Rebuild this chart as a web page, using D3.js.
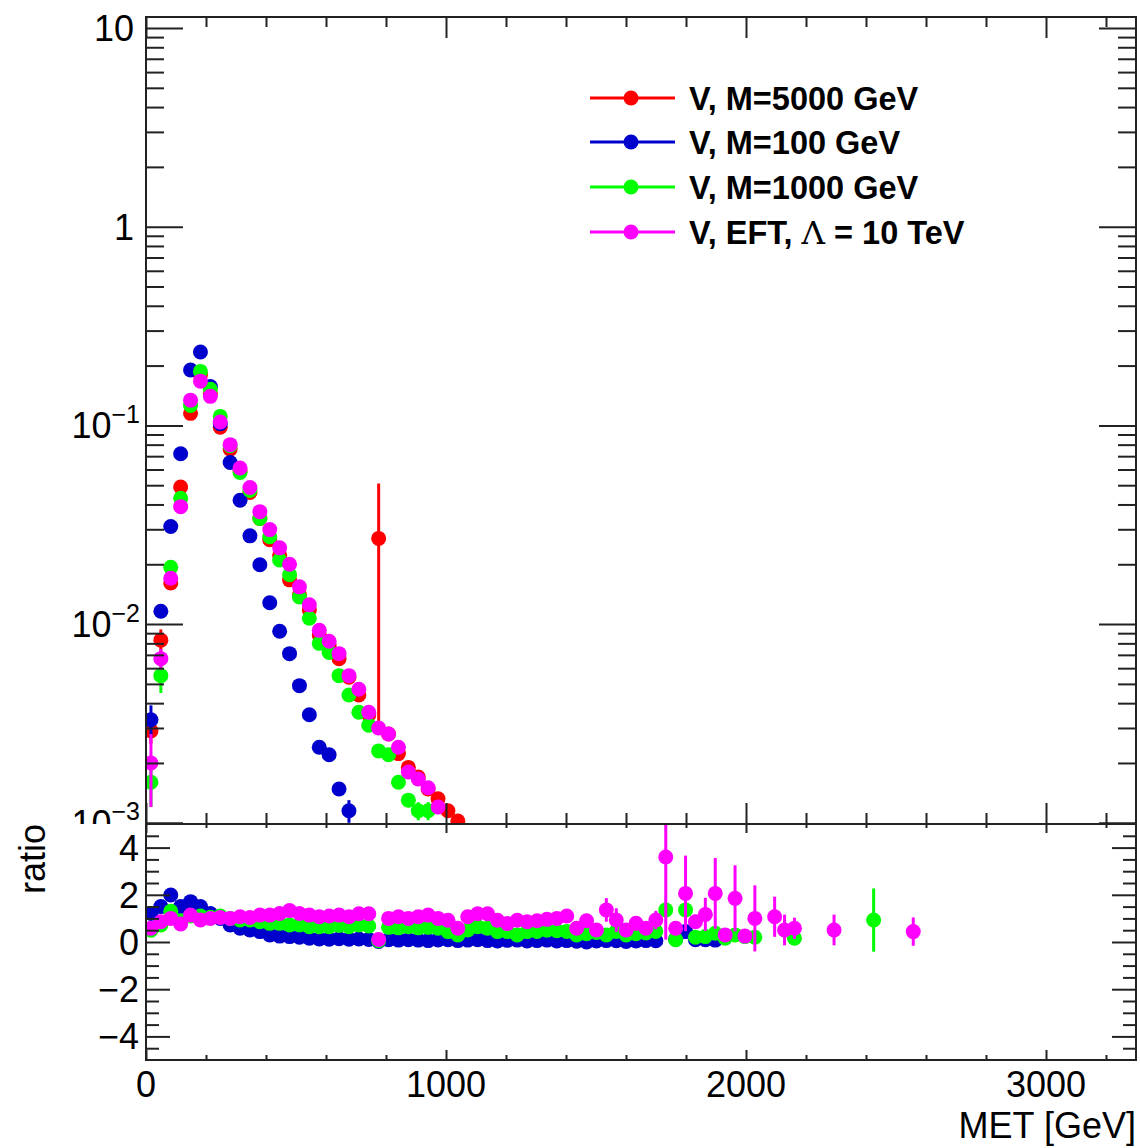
<!DOCTYPE html>
<html>
<head>
<meta charset="utf-8">
<script src="https://cdn.jsdelivr.net/npm/d3@7"></script>
<style>
  body { margin: 0; background: #fff; }
  svg text { font-family: "Liberation Sans", Arial, Helvetica, sans-serif; }
</style>
</head>
<body>
<div id="chart"></div>
<script>
// 100 bins of 33 GeV on 0-3300 GeV, values indexed by bin number
const binWidth = 33;
const xRange = [0, 3300];
const xMajor = [0, 1000, 2000, 3000];
const yTopRange = [0.000986, 11.36];
const yTopMajor = [0.001, 0.01, 0.1, 1, 10];
const ratioRange = [-5, 5];
const ratioMajor = [-4, -2, 0, 2, 4];

const seriesNames = ["V, M=5000 GeV", "V, M=100 GeV", "V, M=1000 GeV", "V, EFT, \u039B = 10 TeV"];
const seriesColors = ["#ff0000", "#0000cc", "#00ff00", "#ff00ff"];

// upper pad: normalised MET distributions
const redTop = [0.0029, 0.0083, 0.0161, 0.049, 0.115, 0.18, 0.145, 0.098, 0.076, 0.059,
  0.046, 0.034, 0.0266, 0.0222, 0.0167, 0.014, 0.0118, 0.0088, 0.0078, 0.0067,
  0.0054, 0.0044, 0.0035, 0.027, 0.0028, 0.00223, 0.0019, 0.0017, 0.00148, 0.00132,
  0.00115, 0.00102];
const redTopErr = [0.0004, 0.0011, 0, 0, 0, 0, 0, 0, 0, 0, 0, 0, 0, 0, 0, 0, 0, 0, 0, 0,
  0, 0, 0, 0.024, 0, 0, 0, 0, 0, 0, 0, 0];
const blueTop = [0.0033, 0.0116, 0.031, 0.072, 0.19, 0.234, 0.157, 0.102, 0.065, 0.042,
  0.0278, 0.0199, 0.0128, 0.0092, 0.0071, 0.0049, 0.0035, 0.0024, 0.0022, 0.00148,
  0.00115];
const blueTopErr = [0.0006, 0, 0, 0, 0, 0, 0, 0, 0, 0, 0, 0, 0, 0, 0, 0, 0, 0, 0, 0, 0.00015];
const greenTop = [0.0016, 0.0055, 0.0193, 0.043, 0.126, 0.187, 0.152, 0.111, 0.079, 0.058,
  0.047, 0.034, 0.0275, 0.021, 0.0177, 0.0137, 0.0107, 0.008, 0.0072, 0.0055,
  0.0044, 0.0036, 0.0031, 0.0023, 0.0022, 0.0016, 0.0013, 0.00115, 0.00115];
const greenTopErr = [0.0004, 0.001, 0, 0, 0, 0, 0, 0, 0, 0, 0, 0, 0, 0, 0, 0, 0, 0, 0, 0,
  0, 0, 0, 0, 0, 0, 0, 0.00012, 0.00012];
const magentaTop = [0.002, 0.0067, 0.017, 0.039, 0.134, 0.167, 0.14, 0.104, 0.08, 0.061,
  0.0487, 0.0368, 0.0299, 0.0242, 0.02, 0.0154, 0.0125, 0.0093, 0.0082, 0.0071,
  0.0055, 0.0047, 0.0036, 0.003, 0.0028, 0.0024, 0.0018, 0.00166, 0.0015, 0.0012];
const magentaTopErr = [0.0008, 0.0008, 0, 0, 0, 0, 0, 0, 0, 0, 0, 0, 0, 0, 0, 0, 0, 0, 0, 0,
  0, 0, 0, 0, 0, 0, 0, 0, 0, 0];

// lower pad: ratio to the M=5000 GeV sample
const blueRatio = [1.21, 1.5, 1.99, 1.5, 1.71, 1.5, 1.21, 1.0, 0.72, 0.58,
  0.51, 0.44, 0.3, 0.25, 0.23, 0.2, 0.16, 0.13, 0.12, 0.14,
  0.12, 0.13, 0.11, 0.02, 0.1, 0.08, 0.1, 0.08, 0.06, 0.09,
  0.1, 0.06, 0.08, 0.1, 0.06, 0.04, 0.07, 0.08, 0.04, 0.06,
  0.08, 0.04, 0.06, 0.03, 0.0, 0.04, 0.06, 0.05, 0.02, 0.04,
  0.06, 0.05, null, 0.12, 0.44, 0.1, 0.1, 0.08];
const blueRatioErr = [];
const greenRatio = [0.5, 0.72, 1.3, 0.9, 1.1, 1.1, 1.05, 1.1, 1.0, 0.93,
  0.93, 0.86, 0.79, 0.79, 0.72, 0.72, 0.65, 0.65, 0.65, 0.7,
  0.65, 0.72, 0.68, 0.05, 0.62, 0.6, 0.65, 0.6, 0.62, 0.58,
  0.44, 0.3, 0.51, 0.65, 0.58, 0.44, 0.44, 0.3, 0.44, 0.45,
  0.5, 0.48, 0.45, 0.3, 0.35, 0.4, 0.3, 0.45, 0.3, 0.35,
  0.38, 0.45, 1.36, 0.1, 1.36, 0.2, 0.23, 0.37, 0.16, 0.3,
  0.23, 0.2, null, null, null, 0.16, null, null, null, null,
  null, null, null, 0.93];
const greenRatioErr = {52: 0.25, 54: 0.2, 73: 1.34};
const magentaRatio = [0.58, 0.86, 1.0, 0.76, 1.14, 0.93, 1.0, 1.04, 1.0, 1.07,
  1.04, 1.14, 1.14, 1.21, 1.33, 1.21, 1.14, 1.07, 1.1, 1.14,
  1.07, 1.2, 1.2, 0.11, 1.0, 1.07, 1.0, 1.07, 1.14, 1.0,
  0.92, 0.58, 1.07, 1.2, 1.2, 0.92, 0.78, 0.92, 0.86, 0.9,
  0.96, 1.0, 1.1, 0.58, 0.9, 0.51, 1.36, 0.93, 0.51, 0.79,
  0.58, 0.93, 3.6, 0.58, 2.06, 0.86, 1.17, 2.06, 0.3, 1.85,
  0.25, 1.0, null, 1.07, 0.51, 0.58, null, null, null, 0.51,
  null, null, null, null, null, null, null, 0.44];
const magentaRatioErr = {43: 0.2, 44: 0.2, 46: 0.5, 47: 0.5, 51: 0.39, 52: 3.5, 53: 0.25,
  54: 1.6, 55: 0.3, 56: 0.7, 57: 1.5, 58: 0.15, 59: 1.4, 60: 0.1, 61: 1.4,
  63: 0.85, 64: 0.65, 65: 0.45, 69: 0.65, 77: 0.6};

// layout
const W = 1140, H = 1148;
const frameL = 146, frameR = 1136;
const topY0 = 17, splitY = 824, botY1 = 1060;
const markerR = 7.5;
const axisColor = "#222";

const x = d3.scaleLinear().domain(xRange).range([frameL, frameR]);
const yTop = d3.scaleLog().domain(yTopRange).range([splitY, topY0]);
const yRatio = d3.scaleLinear().domain(ratioRange).range([botY1, splitY]);

const svg = d3.select("#chart").append("svg")
  .attr("width", W).attr("height", H)
  .attr("viewBox", [0, 0, W, H]);

const defs = svg.append("defs");
defs.append("clipPath").attr("id", "clipTop")
  .append("rect").attr("x", frameL).attr("y", topY0)
  .attr("width", frameR - frameL).attr("height", splitY - topY0);
defs.append("clipPath").attr("id", "clipBot")
  .append("rect").attr("x", frameL).attr("y", splitY)
  .attr("width", frameR - frameL).attr("height", botY1 - splitY);

const binCenter = i => binWidth * (i + 0.5);

function toPoints(values, errs) {
  const pts = [];
  values.forEach((v, i) => {
    if (v === null || v === undefined) return;
    const e = (errs && errs[i]) || 0;
    pts.push({x: binCenter(i), v: v, e: e});
  });
  return pts;
}

function drawSeries(g, pts, yScale, color, isLog) {
  const lo = d => isLog ? Math.max(d.v - d.e, 1e-6) : d.v - d.e;
  g.append("g").selectAll("line")
    .data(pts.filter(d => d.e > 0))
    .join("line")
    .attr("x1", d => x(d.x)).attr("x2", d => x(d.x))
    .attr("y1", d => yScale(lo(d))).attr("y2", d => yScale(d.v + d.e))
    .attr("stroke", color).attr("stroke-width", 3);
  g.append("g").selectAll("circle")
    .data(pts)
    .join("circle")
    .attr("cx", d => x(d.x)).attr("cy", d => yScale(d.v))
    .attr("r", markerR).attr("fill", color);
}

function ticks(g, axisFn, scale, values, size) {
  g.call(axisFn(scale).tickValues(values).tickSize(size).tickFormat(""));
  g.select(".domain").remove();
  g.selectAll(".tick line").attr("stroke", axisColor).attr("stroke-width", 2);
}

const xMinor = d3.range(0, 3301, 200).filter(v => !xMajor.includes(v));
const yTopMinor = [];
[1e-3, 1e-2, 1e-1, 1].forEach(dec => { for (let k = 2; k <= 9; k++) yTopMinor.push(k * dec); });
const ratioMinor = d3.range(-4.5, 4.51, 0.5).filter(v => !ratioMajor.includes(v));

// ---------- upper pad ----------
const topPad = svg.append("g");
const topData = topPad.append("g").attr("clip-path", "url(#clipTop)");
drawSeries(topData, toPoints(redTop, redTopErr), yTop, seriesColors[0], true);
drawSeries(topData, toPoints(blueTop, blueTopErr), yTop, seriesColors[1], true);
drawSeries(topData, toPoints(greenTop, greenTopErr), yTop, seriesColors[2], true);
drawSeries(topData, toPoints(magentaTop, magentaTopErr), yTop, seriesColors[3], true);

ticks(topPad.append("g").attr("transform", `translate(0,${splitY})`), d3.axisBottom, x, xMajor, -21);
ticks(topPad.append("g").attr("transform", `translate(0,${splitY})`), d3.axisBottom, x, xMinor, -11);
ticks(topPad.append("g").attr("transform", `translate(0,${topY0})`), d3.axisTop, x, xMajor, -21);
ticks(topPad.append("g").attr("transform", `translate(0,${topY0})`), d3.axisTop, x, xMinor, -10);
ticks(topPad.append("g").attr("transform", `translate(${frameL},0)`), d3.axisLeft, yTop, yTopMajor, -37);
ticks(topPad.append("g").attr("transform", `translate(${frameL},0)`), d3.axisLeft, yTop, yTopMinor, -18);
ticks(topPad.append("g").attr("transform", `translate(${frameR},0)`), d3.axisRight, yTop, yTopMajor, -37);
ticks(topPad.append("g").attr("transform", `translate(${frameR},0)`), d3.axisRight, yTop, yTopMinor, -18);

topPad.append("rect")
  .attr("x", frameL).attr("y", topY0)
  .attr("width", frameR - frameL).attr("height", splitY - topY0)
  .attr("fill", "none").attr("stroke", axisColor).attr("stroke-width", 2);

// log labels
yTopMajor.forEach(v => {
  const t = topPad.append("text")
    .attr("y", yTop(v)).attr("dy", "0.36em")
    .attr("font-size", 36).attr("fill", "#000")
    .attr("text-anchor", "end");
  const exp = Math.round(Math.log10(v));
  if (exp >= 0) {
    t.attr("x", 134).text(String(v));
  } else {
    t.attr("x", 140);
    t.append("tspan").text("10");
    t.append("tspan").attr("font-size", 25).attr("dy", "-0.62em").text("\u2212" + (-exp));
  }
});

// legend
const legend = topPad.append("g");
const legendRows = [98, 142, 187, 232];
seriesNames.forEach((name, k) => {
  const yy = legendRows[k];
  legend.append("line").attr("x1", 590).attr("x2", 675).attr("y1", yy).attr("y2", yy)
    .attr("stroke", seriesColors[k]).attr("stroke-width", 3);
  legend.append("circle").attr("cx", 631).attr("cy", yy).attr("r", markerR)
    .attr("fill", seriesColors[k]);
  const t = legend.append("text").attr("x", 689).attr("y", yy + 11.5)
    .attr("font-size", 32.5).attr("font-weight", "bold").attr("fill", "#000");
  const parts = name.split("\u039B");
  t.append("tspan").text(parts[0]);
  if (parts.length > 1) {
    t.append("tspan").attr("font-family", "'DejaVu Serif', serif").attr("font-weight", "normal")
      .text("\u039B");
    t.append("tspan").text(parts[1]);
  }
});

// ---------- lower pad ----------
const botPad = svg.append("g");
botPad.append("rect").attr("x", 0).attr("y", splitY).attr("width", W).attr("height", H - splitY)
  .attr("fill", "#fff");
const botData = botPad.append("g").attr("clip-path", "url(#clipBot)");
drawSeries(botData, toPoints(blueRatio, blueRatioErr), yRatio, seriesColors[1], false);
drawSeries(botData, toPoints(greenRatio, greenRatioErr), yRatio, seriesColors[2], false);
drawSeries(botData, toPoints(magentaRatio, magentaRatioErr), yRatio, seriesColors[3], false);

ticks(botPad.append("g").attr("transform", `translate(0,${botY1})`), d3.axisBottom, x, xMajor, -10);
ticks(botPad.append("g").attr("transform", `translate(0,${botY1})`), d3.axisBottom, x, xMinor, -5);
ticks(botPad.append("g").attr("transform", `translate(0,${splitY})`), d3.axisTop, x, xMajor, -9);
ticks(botPad.append("g").attr("transform", `translate(0,${splitY})`), d3.axisTop, x, xMinor, -4);
ticks(botPad.append("g").attr("transform", `translate(${frameL},0)`), d3.axisLeft, yRatio, ratioMajor, -24);
ticks(botPad.append("g").attr("transform", `translate(${frameL},0)`), d3.axisLeft, yRatio, ratioMinor, -13);
ticks(botPad.append("g").attr("transform", `translate(${frameR},0)`), d3.axisRight, yRatio, ratioMajor, -24);
ticks(botPad.append("g").attr("transform", `translate(${frameR},0)`), d3.axisRight, yRatio, ratioMinor, -13);

botPad.append("rect")
  .attr("x", frameL).attr("y", splitY)
  .attr("width", frameR - frameL).attr("height", botY1 - splitY)
  .attr("fill", "none").attr("stroke", axisColor).attr("stroke-width", 2);

ratioMajor.forEach(v => {
  botPad.append("text").attr("x", 139).attr("y", yRatio(v)).attr("dy", "0.36em")
    .attr("text-anchor", "end").attr("font-size", 36).attr("fill", "#000")
    .text(v < 0 ? "\u2212" + (-v) : String(v));
});
xMajor.forEach(v => {
  botPad.append("text").attr("x", x(v)).attr("y", 1097)
    .attr("text-anchor", "middle").attr("font-size", 36).attr("fill", "#000")
    .text(String(v));
});

botPad.append("text").attr("x", frameR).attr("y", 1138)
  .attr("text-anchor", "end").attr("font-size", 36).attr("fill", "#000")
  .text("MET [GeV]");

botPad.append("text")
  .attr("transform", `translate(45,${splitY}) rotate(-90)`)
  .attr("text-anchor", "end").attr("font-size", 36).attr("fill", "#000")
  .text("ratio");
</script>
</body>
</html>
